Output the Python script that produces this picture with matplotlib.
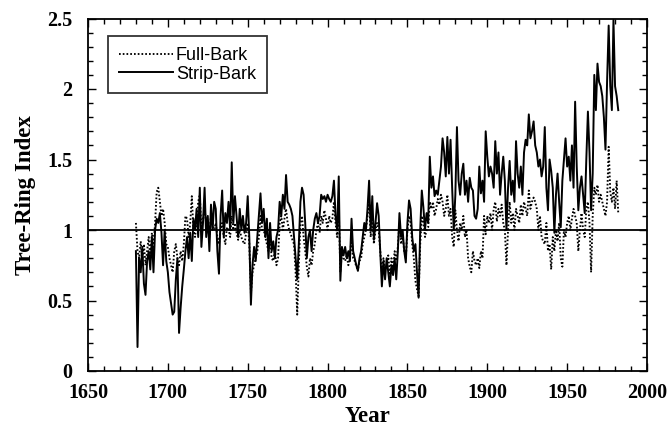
import matplotlib
matplotlib.use("Agg")
import matplotlib.pyplot as plt
from matplotlib.ticker import MultipleLocator
import numpy as np

years = list(range(1680, 1983))

strip_bark = [
    0.85, 0.17, 0.80, 0.70, 0.88, 0.62, 0.54, 0.78, 0.85, 0.72,
    0.95, 0.70, 1.00, 1.08, 1.05, 1.12, 0.98, 0.75, 1.00, 0.78,
    0.70, 0.56, 0.48, 0.40, 0.42, 0.65, 0.80, 0.27, 0.45, 0.60,
    0.72, 0.85, 0.95, 0.80, 0.98, 0.78, 1.08, 1.00, 1.15, 0.95,
    1.30, 0.88, 1.05, 1.30, 0.95, 1.10, 0.85, 1.18, 1.00, 1.20,
    1.15, 0.85, 0.69, 1.10, 1.28, 0.95, 1.12, 1.05, 1.20, 1.00,
    1.48, 1.05, 1.24, 1.10, 0.95, 1.15, 1.00, 1.10, 0.98, 1.05,
    1.24, 0.95, 0.47, 0.75, 0.88, 0.78, 0.95, 1.10, 1.26, 1.05,
    1.15, 0.95, 1.08, 0.80, 1.05, 0.85, 0.92, 0.80, 0.95, 1.00,
    1.20, 1.10, 1.25, 1.15, 1.39, 1.20, 1.18, 1.15, 1.10, 0.95,
    0.79, 0.65, 0.90, 1.20, 1.30, 1.25, 1.05, 0.80, 0.95, 1.00,
    0.85, 1.00, 1.08, 1.12, 1.05, 1.10, 1.25, 1.22, 1.24, 1.20,
    1.25, 1.22, 1.20, 1.24, 1.35, 1.10, 1.00, 1.38, 0.64, 0.88,
    0.82, 0.88, 0.80, 0.85, 0.78, 1.08, 0.85, 0.80, 0.75, 0.71,
    0.80, 0.85, 0.95, 1.05, 1.00, 1.15, 1.35, 1.00, 1.24, 0.93,
    1.05, 1.19, 1.10, 0.84, 0.60, 0.78, 0.65, 0.80, 0.70, 0.60,
    0.75, 0.68, 0.80, 0.65, 0.85, 1.12, 0.95, 1.00, 0.85, 0.77,
    1.05, 1.21, 1.15, 0.95, 0.85, 0.90, 0.70, 0.52, 1.00, 1.28,
    1.16, 1.00, 1.12, 1.05, 1.52, 1.30, 1.38, 1.24, 1.28, 1.25,
    1.35, 1.45, 1.65, 1.55, 1.38, 1.66, 1.40, 1.64, 1.30, 1.00,
    1.25, 1.73, 1.35, 1.25, 1.40, 1.47, 1.25, 1.35, 1.20, 1.37,
    1.30, 1.28, 1.10, 1.08, 1.15, 1.45, 1.26, 1.35, 1.20, 1.70,
    1.52, 1.38, 1.45, 1.40, 1.30, 1.63, 1.40, 1.55, 1.25, 1.40,
    1.52, 1.35, 1.00, 1.30, 1.49, 1.25, 1.35, 1.20, 1.63, 1.40,
    1.30, 1.45, 1.25, 1.55, 1.64, 1.60, 1.82, 1.65, 1.70, 1.77,
    1.60, 1.55, 1.45, 1.50, 1.38, 1.45, 1.73, 1.30, 1.14, 1.50,
    1.42, 1.30, 0.98, 1.25, 1.40, 1.20, 1.02, 1.35, 1.50, 1.65,
    1.45, 1.52, 1.35, 1.60, 1.30, 1.91, 1.45, 1.14, 1.30, 1.38,
    1.25, 1.12, 1.50, 1.84, 1.55, 1.14, 1.40, 2.10, 1.85, 2.18,
    2.05, 2.02, 1.95, 1.80, 1.57, 2.05, 2.45, 2.02, 1.85, 2.49,
    2.02, 1.95, 1.85,
]

full_bark = [
    1.05, 0.85, 0.80, 0.92, 0.78, 0.90, 0.75, 0.85, 0.95, 0.80,
    0.98, 0.88, 1.05, 1.27, 1.30, 1.20, 1.10, 1.15, 1.05, 0.90,
    0.88, 0.80, 0.75, 0.70, 0.85, 0.90, 0.80, 0.75, 0.85, 0.78,
    0.90, 1.10, 1.08, 0.95, 1.05, 1.24, 1.00, 0.95, 1.05, 1.20,
    1.25, 1.00, 1.08, 1.15, 1.05, 1.00, 0.95, 1.10, 1.05, 1.00,
    1.05, 0.95, 0.90, 1.00, 1.05, 0.95, 0.90, 1.02, 1.00, 0.95,
    1.10, 1.00, 1.05, 0.98, 0.93, 1.00, 0.95, 0.92, 0.90, 0.98,
    1.05, 0.90, 0.55, 0.70, 0.75, 0.80, 0.85, 0.95, 1.10, 1.00,
    1.00, 0.95, 0.90, 0.85, 0.95, 0.80, 0.78, 0.85, 0.75, 0.80,
    1.05, 1.10, 1.00, 1.08, 1.15, 1.05, 1.00, 0.97, 0.93, 0.90,
    0.70, 0.40, 0.75, 1.05, 1.10, 0.95, 0.85, 0.74, 0.67, 0.80,
    0.75, 0.85, 0.90, 1.00, 1.05, 0.98, 1.10, 1.05, 1.14, 1.08,
    1.00, 1.10, 1.05, 1.08, 1.20, 1.05, 0.95, 1.15, 0.70, 0.85,
    0.80, 0.78, 0.82, 0.75, 0.80, 0.95, 0.80, 0.78, 0.74, 0.72,
    0.78, 0.80, 0.90, 0.95, 1.00, 1.10, 1.20, 0.95, 1.10, 0.90,
    1.00, 1.05, 1.00, 0.85, 0.70, 0.80, 0.72, 0.75, 0.82, 0.68,
    0.80, 0.72, 0.85, 0.78, 0.88, 1.05, 0.90, 0.95, 0.85, 0.80,
    1.00, 1.10, 1.05, 0.90, 0.80, 0.64, 0.58, 0.53, 0.90, 1.10,
    1.05, 0.95, 1.00, 1.02, 1.20, 1.15, 1.20, 1.10, 1.15, 1.22,
    1.18, 1.25, 1.20, 1.10, 1.15, 1.25, 1.10, 1.15, 0.95, 0.88,
    1.14, 1.00, 0.92, 1.05, 1.00, 1.10, 0.95, 1.00, 0.80, 0.74,
    0.70, 0.85, 0.78, 0.75, 0.80, 0.73, 0.85, 0.80, 1.10, 0.97,
    1.10, 1.05, 1.12, 1.00, 1.15, 1.20, 1.06, 1.15, 1.10, 1.18,
    1.05, 1.00, 0.75, 1.00, 1.20, 1.05, 1.12, 1.00, 1.15, 1.10,
    1.05, 1.18, 1.10, 1.20, 1.15, 1.10, 1.28, 1.15, 1.20, 1.23,
    1.20, 1.15, 1.00, 1.10, 0.95, 0.92, 0.90, 1.05, 0.85, 0.90,
    0.72, 0.95, 0.85, 1.00, 0.92, 1.05, 0.80, 0.74, 1.00, 0.95,
    1.05, 1.10, 1.00, 1.08, 1.15, 1.10, 1.05, 0.85, 1.00, 1.12,
    1.00, 0.95, 1.15, 1.20, 1.05, 0.70, 1.10, 1.30, 1.25, 1.32,
    1.20, 1.25, 1.20, 1.15, 1.10, 1.20, 1.59, 1.27, 1.20, 1.30,
    1.15, 1.35, 1.12,
]

x_ticks = [1650, 1700, 1750, 1800, 1850, 1900, 1950, 2000]
y_ticks = [0, 0.5, 1, 1.5, 2, 2.5]
reference_level = 1.0

serif = ["Liberation Serif", "DejaVu Serif"]
sans = ["Liberation Sans", "DejaVu Sans"]

fig = plt.figure(figsize=(6.67, 4.30), dpi=100)
ax = fig.add_axes([88/667, 59/430, 559/667, 352.5/430])

ax.axhline(reference_level, color="black", lw=1.3, zorder=1)
ax.plot(years, full_bark, color="black", lw=1.35, linestyle=(0, (0.9, 1.1)),
        label="Full-Bark", zorder=2)
ax.plot(years, strip_bark, color="black", lw=1.4, label="Strip-Bark", zorder=3)

ax.set_xlim(1650, 2000)
ax.set_ylim(0, 2.5)
ax.set_xticks(x_ticks)
ax.set_yticks(y_ticks)
ax.xaxis.set_minor_locator(MultipleLocator(10))
ax.yaxis.set_minor_locator(MultipleLocator(0.1))
ax.set_yticklabels([("%g" % v) for v in y_ticks])

ax.tick_params(which="both", direction="in", top=True, right=True, width=1.0)
ax.tick_params(which="major", length=6)
ax.tick_params(which="minor", length=3.5)
ax.tick_params(axis="x", which="major", pad=9)
ax.tick_params(axis="y", which="major", pad=11)
for lab in ax.get_xticklabels() + ax.get_yticklabels():
    lab.set_fontfamily(serif)
    lab.set_fontweight("bold")
    lab.set_fontsize(14.5)

for sp in ax.spines.values():
    sp.set_linewidth(1.3)

ax.set_xlabel("Year", fontfamily=serif, fontweight="bold", fontsize=16.5, labelpad=2)
ax.set_ylabel("Tree-Ring Index", fontfamily=serif, fontweight="bold", fontsize=16.5, labelpad=8)

leg = ax.legend(loc="upper left", bbox_to_anchor=(108/667, 1 - 36/430),
                bbox_transform=fig.transFigure, borderaxespad=0,
                prop={"family": sans, "size": 13}, frameon=True, fancybox=False,
                edgecolor="black", handlelength=3.0, handletextpad=0.15,
                labelspacing=0.1, borderpad=0.6)
leg.get_frame().set_linewidth(1.3)

fig.savefig("out.png", dpi=100, facecolor="white")
